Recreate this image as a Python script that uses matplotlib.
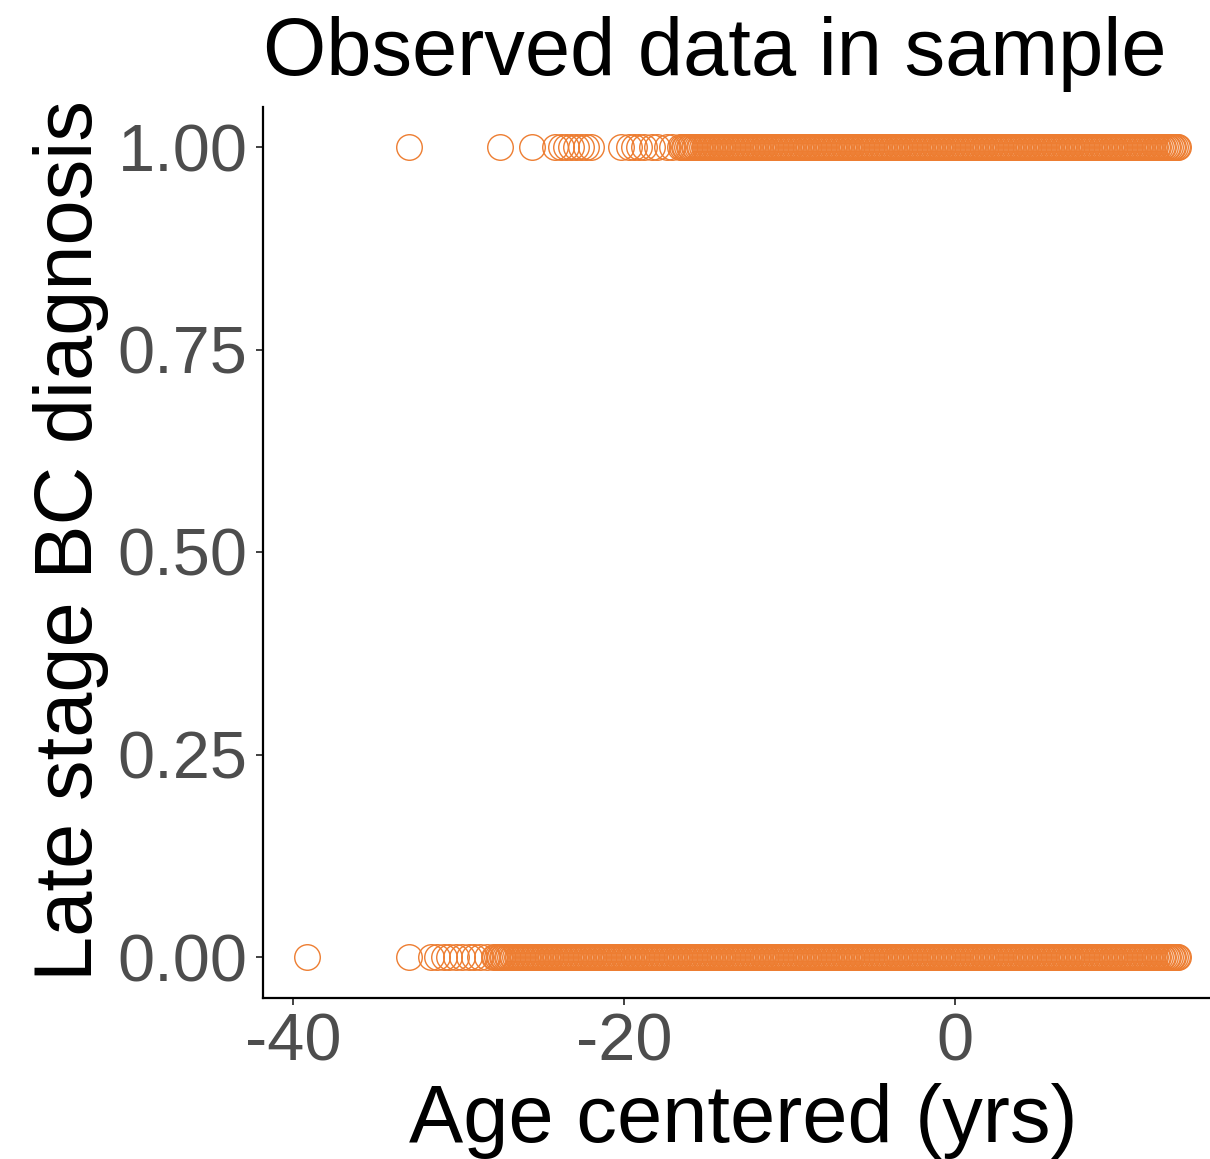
import matplotlib
matplotlib.use("Agg")
import matplotlib.pyplot as plt

plt.rcParams["font.family"] = ["Liberation Sans", "DejaVu Sans"]

# ages (centered, yrs) of women with a late stage diagnosis (outcome = 1)
late_sparse = [-33.0, -27.5, -25.6, -24.2, -23.8, -23.5, -23.2, -22.9, -22.6,
               -22.3, -22.0, -20.2, -19.7, -19.4, -19.1, -18.8, -18.3, -18.0,
               -17.4, -17.1]
late_dense = [
    -16.6, -16.5, -16.4, -16.3, -16.2, -16.1, -16.0, -15.9, -15.8, -15.7,
    -15.6, -15.5, -15.4, -15.3, -15.2, -15.1, -15.0, -14.9, -14.8, -14.7,
    -14.6, -14.5, -14.4, -14.3, -14.2, -14.1, -14.0, -13.9, -13.8, -13.7,
    -13.6, -13.5, -13.4, -13.3, -13.2, -13.1, -13.0, -12.9, -12.8, -12.7,
    -12.6, -12.5, -12.4, -12.3, -12.2, -12.1, -12.0, -11.9, -11.8, -11.7,
    -11.6, -11.5, -11.4, -11.3, -11.2, -11.1, -11.0, -10.9, -10.8, -10.7,
    -10.6, -10.5, -10.4, -10.3, -10.2, -10.1, -10.0, -9.9, -9.8, -9.7,
    -9.6, -9.5, -9.4, -9.3, -9.2, -9.1, -9.0, -8.9, -8.8, -8.7,
    -8.6, -8.5, -8.4, -8.3, -8.2, -8.1, -8.0, -7.9, -7.8, -7.7,
    -7.6, -7.5, -7.4, -7.3, -7.2, -7.1, -7.0, -6.9, -6.8, -6.7,
    -6.6, -6.5, -6.4, -6.3, -6.2, -6.1, -6.0, -5.9, -5.8, -5.7,
    -5.6, -5.5, -5.4, -5.3, -5.2, -5.1, -5.0, -4.9, -4.8, -4.7,
    -4.6, -4.5, -4.4, -4.3, -4.2, -4.1, -4.0, -3.9, -3.8, -3.7,
    -3.6, -3.5, -3.4, -3.3, -3.2, -3.1, -3.0, -2.9, -2.8, -2.7,
    -2.6, -2.5, -2.4, -2.3, -2.2, -2.1, -2.0, -1.9, -1.8, -1.7,
    -1.6, -1.5, -1.4, -1.3, -1.2, -1.1, -1.0, -0.9, -0.8, -0.7,
    -0.6, -0.5, -0.4, -0.3, -0.2, -0.1, 0.0, 0.1, 0.2, 0.3,
    0.4, 0.5, 0.6, 0.7, 0.8, 0.9, 1.0, 1.1, 1.2, 1.3,
    1.4, 1.5, 1.6, 1.7, 1.8, 1.9, 2.0, 2.1, 2.2, 2.3,
    2.4, 2.5, 2.6, 2.7, 2.8, 2.9, 3.0, 3.1, 3.2, 3.3,
    3.4, 3.5, 3.6, 3.7, 3.8, 3.9, 4.0, 4.1, 4.2, 4.3,
    4.4, 4.5, 4.6, 4.7, 4.8, 4.9, 5.0, 5.1, 5.2, 5.3,
    5.4, 5.5, 5.6, 5.7, 5.8, 5.9, 6.0, 6.1, 6.2, 6.3,
    6.4, 6.5, 6.6, 6.7, 6.8, 6.9, 7.0, 7.1, 7.2, 7.3,
    7.4, 7.5, 7.6, 7.7, 7.8, 7.9, 8.0, 8.1, 8.2, 8.3,
    8.4, 8.5, 8.6, 8.7, 8.8, 8.9, 9.0, 9.1, 9.2, 9.3,
    9.4, 9.5, 9.6, 9.7, 9.8, 9.9, 10.0, 10.1, 10.2, 10.3,
    10.4, 10.5, 10.6, 10.7, 10.8, 10.9, 11.0, 11.1, 11.2, 11.3,
    11.4, 11.5, 11.6, 11.7, 11.8, 11.9, 12.0, 12.1, 12.2, 12.3,
    12.4, 12.5, 12.6, 12.7, 12.8, 12.9, 13.0, 13.1, 13.2, 13.3,
    13.4, 13.5,
]

# ages of women with an early stage diagnosis (outcome = 0)
early_sparse = [-39.2, -33.0, -31.7, -31.3, -30.9, -30.6, -30.2, -29.8,
                -29.4, -29.1, -28.7, -28.3]
early_dense = [
    -27.9, -27.8, -27.7, -27.6, -27.5, -27.4, -27.3, -27.2, -27.1, -27.0,
    -26.9, -26.8, -26.7, -26.6, -26.5, -26.4, -26.3, -26.2, -26.1, -26.0,
    -25.9, -25.8, -25.7, -25.6, -25.5, -25.4, -25.3, -25.2, -25.1, -25.0,
    -24.9, -24.8, -24.7, -24.6, -24.5, -24.4, -24.3, -24.2, -24.1, -24.0,
    -23.9, -23.8, -23.7, -23.6, -23.5, -23.4, -23.3, -23.2, -23.1, -23.0,
    -22.9, -22.8, -22.7, -22.6, -22.5, -22.4, -22.3, -22.2, -22.1, -22.0,
    -21.9, -21.8, -21.7, -21.6, -21.5, -21.4, -21.3, -21.2, -21.1, -21.0,
    -20.9, -20.8, -20.7, -20.6, -20.5, -20.4, -20.3, -20.2, -20.1, -20.0,
    -19.9, -19.8, -19.7, -19.6, -19.5, -19.4, -19.3, -19.2, -19.1, -19.0,
    -18.9, -18.8, -18.7, -18.6, -18.5, -18.4, -18.3, -18.2, -18.1, -18.0,
    -17.9, -17.8, -17.7, -17.6, -17.5, -17.4, -17.3, -17.2, -17.1, -17.0,
    -16.9, -16.8, -16.7, -16.6, -16.5, -16.4, -16.3, -16.2, -16.1, -16.0,
    -15.9, -15.8, -15.7, -15.6, -15.5, -15.4, -15.3, -15.2, -15.1, -15.0,
    -14.9, -14.8, -14.7, -14.6, -14.5, -14.4, -14.3, -14.2, -14.1, -14.0,
    -13.9, -13.8, -13.7, -13.6, -13.5, -13.4, -13.3, -13.2, -13.1, -13.0,
    -12.9, -12.8, -12.7, -12.6, -12.5, -12.4, -12.3, -12.2, -12.1, -12.0,
    -11.9, -11.8, -11.7, -11.6, -11.5, -11.4, -11.3, -11.2, -11.1, -11.0,
    -10.9, -10.8, -10.7, -10.6, -10.5, -10.4, -10.3, -10.2, -10.1, -10.0,
    -9.9, -9.8, -9.7, -9.6, -9.5, -9.4, -9.3, -9.2, -9.1, -9.0,
    -8.9, -8.8, -8.7, -8.6, -8.5, -8.4, -8.3, -8.2, -8.1, -8.0,
    -7.9, -7.8, -7.7, -7.6, -7.5, -7.4, -7.3, -7.2, -7.1, -7.0,
    -6.9, -6.8, -6.7, -6.6, -6.5, -6.4, -6.3, -6.2, -6.1, -6.0,
    -5.9, -5.8, -5.7, -5.6, -5.5, -5.4, -5.3, -5.2, -5.1, -5.0,
    -4.9, -4.8, -4.7, -4.6, -4.5, -4.4, -4.3, -4.2, -4.1, -4.0,
    -3.9, -3.8, -3.7, -3.6, -3.5, -3.4, -3.3, -3.2, -3.1, -3.0,
    -2.9, -2.8, -2.7, -2.6, -2.5, -2.4, -2.3, -2.2, -2.1, -2.0,
    -1.9, -1.8, -1.7, -1.6, -1.5, -1.4, -1.3, -1.2, -1.1, -1.0,
    -0.9, -0.8, -0.7, -0.6, -0.5, -0.4, -0.3, -0.2, -0.1, 0.0,
    0.1, 0.2, 0.3, 0.4, 0.5, 0.6, 0.7, 0.8, 0.9, 1.0,
    1.1, 1.2, 1.3, 1.4, 1.5, 1.6, 1.7, 1.8, 1.9, 2.0,
    2.1, 2.2, 2.3, 2.4, 2.5, 2.6, 2.7, 2.8, 2.9, 3.0,
    3.1, 3.2, 3.3, 3.4, 3.5, 3.6, 3.7, 3.8, 3.9, 4.0,
    4.1, 4.2, 4.3, 4.4, 4.5, 4.6, 4.7, 4.8, 4.9, 5.0,
    5.1, 5.2, 5.3, 5.4, 5.5, 5.6, 5.7, 5.8, 5.9, 6.0,
    6.1, 6.2, 6.3, 6.4, 6.5, 6.6, 6.7, 6.8, 6.9, 7.0,
    7.1, 7.2, 7.3, 7.4, 7.5, 7.6, 7.7, 7.8, 7.9, 8.0,
    8.1, 8.2, 8.3, 8.4, 8.5, 8.6, 8.7, 8.8, 8.9, 9.0,
    9.1, 9.2, 9.3, 9.4, 9.5, 9.6, 9.7, 9.8, 9.9, 10.0,
    10.1, 10.2, 10.3, 10.4, 10.5, 10.6, 10.7, 10.8, 10.9, 11.0,
    11.1, 11.2, 11.3, 11.4, 11.5, 11.6, 11.7, 11.8, 11.9, 12.0,
    12.1, 12.2, 12.3, 12.4, 12.5, 12.6, 12.7, 12.8, 12.9, 13.0,
    13.1, 13.2, 13.3, 13.4, 13.5,
]

x_ticks = [-40, -20, 0]
y_ticks = [0.0, 0.25, 0.50, 0.75, 1.0]
y_ticklabels = ["0.00", "0.25", "0.50", "0.75", "1.00"]

orange = "#ED7D31"
grey = "#4D4D4D"

fig = plt.figure(figsize=(12.10, 11.59), dpi=100)
ax = fig.add_axes([263 / 1210, 1 - 997.5 / 1159, 960 / 1210, 891 / 1159])

late_x = late_sparse + late_dense
early_x = early_sparse + early_dense
for xs, outcome in [(early_x, 0), (late_x, 1)]:
    ax.plot(xs, [outcome] * len(xs), linestyle="none", marker="o",
            markersize=18.4, markerfacecolor="none", markeredgecolor=orange,
            markeredgewidth=1.0, clip_on=False)

ax.set_xlim(-41.84, 16.2)
ax.set_ylim(-0.05, 1.05)
ax.set_xticks(x_ticks)
ax.set_xticklabels([str(t) for t in x_ticks])
ax.set_yticks(y_ticks)
ax.set_yticklabels(y_ticklabels)

for side in ["top", "right"]:
    ax.spines[side].set_visible(False)
for side in ["left", "bottom"]:
    ax.spines[side].set_linewidth(1.6)
    ax.spines[side].set_color("black")

ax.tick_params(axis="both", length=5, width=1.3, colors="#333333",
               labelsize=48, labelcolor=grey, pad=6)

ax.set_title("Observed data in sample", loc="left", fontsize=58.5, pad=23)
ax.set_xlabel("Age centered (yrs)", fontsize=58.5)
ax.xaxis.label.set_verticalalignment("baseline")
ax.xaxis.set_label_coords(0.5, (997.5 - 1142) / 891)
ax.set_ylabel("Late stage BC diagnosis", fontsize=58.5)
ax.yaxis.set_label_coords(-0.160, 0.513)

fig.savefig("out.png", dpi=100)
